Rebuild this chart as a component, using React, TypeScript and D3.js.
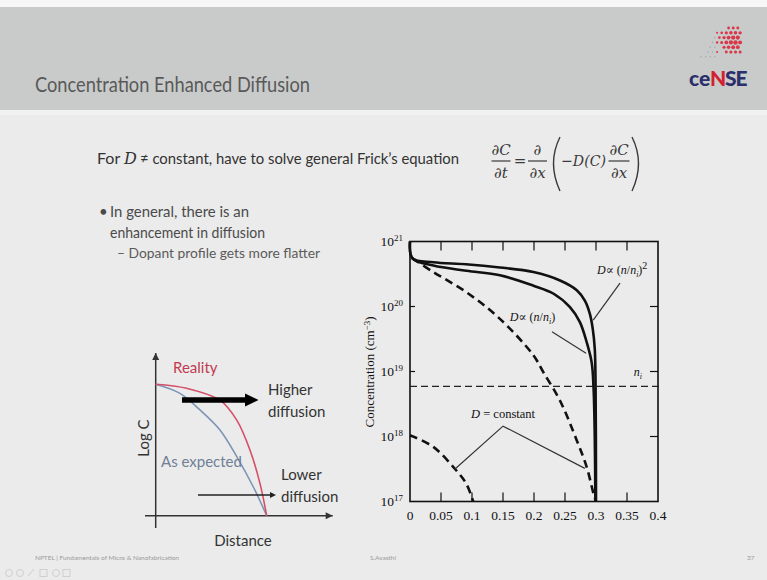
import * as d3 from 'd3';
import React from 'react';

// plot values: x in µm, concentration as log10(cm^-3)
const X_TICKS = [0, 0.05, 0.1, 0.15, 0.2, 0.25, 0.3, 0.35, 0.4];
const X_LABELS = ['0', '0.05', '0.1', '0.15', '0.2', '0.25', '0.3', '0.35', '0.4'];
const Y_EXPONENTS = [17, 18, 19, 20, 21];
const NI_LOG = 18.77;

const nNiSquared = [
    [0, 21.0], [0.004, 20.74], [0.0376, 20.68], [0.09, 20.65], [0.145, 20.6], [0.199, 20.53],
    [0.242, 20.4], [0.269, 20.25], [0.282, 20.09], [0.29, 19.89], [0.2947, 19.66], [0.298, 19.35],
    [0.2993, 18.8], [0.2998, 18.0], [0.3, 17.0],
];
const nNi = [
    [0, 21.0], [0.004, 20.74], [0.0376, 20.63], [0.091, 20.55], [0.145, 20.48], [0.199, 20.32],
    [0.231, 20.2], [0.258, 19.99], [0.274, 19.76], [0.285, 19.45], [0.293, 19.14], [0.296, 18.76],
    [0.298, 18.0], [0.299, 17.0],
];
const dConstLong = [
    [0.004, 20.74], [0.0376, 20.53], [0.091, 20.22], [0.145, 19.81], [0.199, 19.25], [0.215, 18.99],
    [0.242, 18.55], [0.269, 17.94], [0.285, 17.53], [0.296, 17.12], [0.3, 17.0],
];
const dConstShort = [[0, 18.02], [0.0376, 17.84], [0.0726, 17.5], [0.091, 17.27], [0.102, 17.0]];

// sketch on the left (arbitrary units)
const sketchReality = [[0, 8.08], [1.75, 7.83], [3.63, 7.1], [4.58, 5.87], [5.33, 4.02], [5.89, 1.99], [6.27, 0]];
const sketchExpected = [[0, 8.08], [1.37, 7.52], [2.5, 6.5], [3.63, 5.27], [4.58, 3.63], [5.51, 1.78], [6.27, 0]];

const SANS = 'Lato, "Open Sans", sans-serif';
const SERIF = '"Liberation Serif", "DejaVu Serif", serif';

function Logo() {
    const dots = [];
    for (let r = 0; r < 7; r++) {
        for (let c = 0; c < 9; c++) {
            const cx = 701 + c * 4.6 + (r % 2) * 2.3;
            const cy = 28 + r * 4.8;
            const d = Math.hypot(cx - 734, cy - 41);
            if (d > 15 && cx > 718) continue;
            if (cx < 701 + (6 - r) * 2.5) continue;
            const red = cx > 715;
            dots.push(
                <circle key={r + '-' + c} cx={cx} cy={cy}
                    r={red ? Math.max(1, 2.4 - d / 14) : 0.8}
                    fill={red ? '#d9364a' : '#a9a9b3'} />
            );
        }
    }
    const letters = [['c', 689, '#2c2f6b'], ['e', 699, '#2c2f6b'], ['N', 710, '#d41f33'], ['S', 725, '#2c2f6b'], ['E', 735.5, '#2c2f6b']];
    return (
        <g>
            {dots}
            {letters.map(([l, lx, col]) => (
                <text key={l as string} x={lx as number} y={86} fontFamily={SANS} fontWeight={900}
                    fontSize={21} fill={col as string}>{l}</text>
            ))}
        </g>
    );
}

function Equation() {
    const f = { fontFamily: '"DejaVu Serif", serif', fontStyle: 'italic', fontSize: 15, fill: '#3a3a3a' } as const;
    const frac = (cx: number, w: number, top: string, bot: string) => (
        <g>
            <text x={cx} y={155} textAnchor="middle" {...f}>{top}</text>
            <line x1={cx - w / 2} x2={cx + w / 2} y1={161} y2={161} stroke="#3a3a3a" strokeWidth={1.2} />
            <text x={cx} y={178} textAnchor="middle" {...f}>{bot}</text>
        </g>
    );
    return (
        <g>
            {frac(501, 19, '∂C', '∂t')}
            <text x={520} y={166} textAnchor="middle" {...f} fontStyle="normal">=</text>
            {frac(537.5, 19, '∂', '∂x')}
            <path d="M560,137 Q547,163 560,191" fill="none" stroke="#3a3a3a" strokeWidth={1.4} />
            <text x={561} y={166} {...f} textLength={45} lengthAdjust="spacingAndGlyphs">−D(C)</text>
            {frac(619, 21, '∂C', '∂x')}
            <path d="M632,137 Q645,163 632,191" fill="none" stroke="#3a3a3a" strokeWidth={1.4} />
        </g>
    );
}

function Sketch() {
    const sx = d3.scaleLinear().domain([0, 10]).range([155.7, 332.7]);
    const sy = d3.scaleLinear().domain([0, 10]).range([515.7, 353]);
    const line = d3.line<number[]>().x(d => sx(d[0])).y(d => sy(d[1])).curve(d3.curveCatmullRom.alpha(0.5));
    return (
        <g fontFamily={SANS}>
            <line x1={sx(0)} x2={sx(0)} y1={528} y2={sy(10)} stroke="#333" strokeWidth={1.5} />
            <path d={`M${sx(0) - 3.5},${sy(10) + 7} L${sx(0)},${sy(10)} L${sx(0) + 3.5},${sy(10) + 7}Z`} fill="#333" />
            <line x1={145} x2={sx(10)} y1={sy(0)} y2={sy(0)} stroke="#333" strokeWidth={1.5} />
            <path d={`M${sx(10) - 7},${sy(0) - 3.5} L${sx(10)},${sy(0)} L${sx(10) - 7},${sy(0) + 3.5}Z`} fill="#333" />
            <path d={line(sketchExpected) || ''} fill="none" stroke="#7d95b5" strokeWidth={1.6} />
            <path d={line(sketchReality) || ''} fill="none" stroke="#d45068" strokeWidth={1.6} />
            {/* thick arrow */}
            <line x1={182} x2={246} y1={400} y2={400} stroke="#000" strokeWidth={5.5} />
            <path d="M245,393.5 L258.5,400 L245,406.5Z" fill="#000" />
            {/* thin arrow */}
            <line x1={198} x2={272} y1={495} y2={495} stroke="#222" strokeWidth={1.4} />
            <path d="M270,492 L276,495 L270,498Z" fill="#222" />
            <text x={173} y={373} fontSize={15} fill="#c23a52">Reality</text>
            <text x={268} y={395} fontSize={15} fill="#333">Higher</text>
            <text x={268} y={417} fontSize={15} fill="#333">diffusion</text>
            <text x={161} y={467} fontSize={15} fill="#6f7f96">As expected</text>
            <text x={281} y={480} fontSize={15} fill="#333">Lower</text>
            <text x={281} y={502} fontSize={15} fill="#333">diffusion</text>
            <text x={243} y={546} fontSize={15} textAnchor="middle" fill="#333">Distance</text>
            <text transform="translate(149,438) rotate(-90)" fontSize={15} textAnchor="middle" fill="#333">Log C</text>
        </g>
    );
}

function Plot() {
    const x = d3.scaleLinear().domain([0, 0.4]).range([410, 658]);
    const y = d3.scaleLog().domain([1e17, 1e21]).range([501.5, 241.5]);
    const line = d3.line<number[]>()
        .x(d => x(d[0]))
        .y(d => y(10 ** d[1]))
        .curve(d3.curveCatmullRom.alpha(0.5));
    const [x0, x1] = x.range();
    const [yb, yt] = y.range();
    const at = (xv: number, lv: number) => [x(xv), y(10 ** lv)];
    const leader = (pts: number[][]) => pts.map(p => at(p[0], p[1]).join(',')).join(' ');

    return (
        <g fontFamily={SERIF} fill="#111">
            <rect x={x0} y={yt} width={x1 - x0} height={yb - yt} fill="none" stroke="#111" strokeWidth={1.6} />
            {X_TICKS.slice(1, -1).map(t => (
                <g key={t}>
                    <line x1={x(t)} x2={x(t)} y1={yt} y2={yt + 9} stroke="#111" strokeWidth={1.2} />
                    <line x1={x(t)} x2={x(t)} y1={yb} y2={yb - 9} stroke="#111" strokeWidth={1.2} />
                </g>
            ))}
            {Y_EXPONENTS.slice(1, -1).map(e => (
                <g key={e}>
                    <line x1={x0} x2={x0 + 5} y1={y(10 ** e)} y2={y(10 ** e)} stroke="#111" strokeWidth={1.2} />
                    <line x1={x1} x2={x1 - 8} y1={y(10 ** e)} y2={y(10 ** e)} stroke="#111" strokeWidth={1.2} />
                </g>
            ))}
            {X_TICKS.map((t, i) => (
                <text key={t} x={x(t)} y={520} fontSize={13.5} textAnchor="middle">{X_LABELS[i]}</text>
            ))}
            {Y_EXPONENTS.map(e => (
                <text key={e} x={403} y={y(10 ** e) + 4} fontSize={13.5} textAnchor="end">
                    10<tspan dy={-5} fontSize={9}>{e}</tspan>
                </text>
            ))}
            <text transform="translate(374,372) rotate(-90)" fontSize={13} textAnchor="middle">
                Concentration (cm<tspan dy={-4} fontSize={9}>−3</tspan><tspan dy={4}>)</tspan>
            </text>

            <line x1={x0} x2={x1 + 2} y1={y(10 ** NI_LOG)} y2={y(10 ** NI_LOG)}
                stroke="#222" strokeWidth={1.3} strokeDasharray="7 4" />
            <path d={line(dConstLong) || ''} fill="none" stroke="#111" strokeWidth={2.6} strokeDasharray="8 5" />
            <path d={line(dConstShort) || ''} fill="none" stroke="#111" strokeWidth={2.6} strokeDasharray="8 5" />
            <path d={line(nNi) || ''} fill="none" stroke="#111" strokeWidth={2.6} />
            <path d={line(nNiSquared) || ''} fill="none" stroke="#111" strokeWidth={2.6} />

            <polyline points={leader([[0.3387, 20.36], [0.2955, 19.79]])} fill="none" stroke="#333" strokeWidth={1.2} />
            <polyline points={leader([[0.229, 19.61], [0.284, 19.28]])} fill="none" stroke="#333" strokeWidth={1.2} />
            <polyline points={leader([[0.0726, 17.5], [0.15, 18.16], [0.282, 17.51]])} fill="none" stroke="#333" strokeWidth={1.2} />

            <text x={at(0.3016, 20.5)[0]} y={at(0.3016, 20.5)[1]} fontSize={12}>
                <tspan fontStyle="italic">D</tspan>∝ (<tspan fontStyle="italic">n</tspan>/<tspan fontStyle="italic">n</tspan><tspan fontSize={8} dy={3} fontStyle="italic">i</tspan><tspan dy={-3}>)</tspan><tspan dy={-5} fontSize={10}>2</tspan>
            </text>
            <text x={at(0.161, 19.78)[0]} y={at(0.161, 19.78)[1]} fontSize={12}>
                <tspan fontStyle="italic">D</tspan>∝ (<tspan fontStyle="italic">n</tspan>/<tspan fontStyle="italic">n</tspan><tspan fontSize={8} dy={3} fontStyle="italic">i</tspan><tspan dy={-3}>)</tspan>
            </text>
            <text x={at(0.15, 18.28)[0]} y={at(0.15, 18.28)[1]} fontSize={12.5} textAnchor="middle">
                <tspan fontStyle="italic">D</tspan> = constant
            </text>
            <text x={at(0.361, 18.93)[0]} y={at(0.361, 18.93)[1]} fontSize={12} fontStyle="italic">
                n<tspan fontSize={8} dy={3}>i</tspan>
            </text>
        </g>
    );
}

export default function App() {
    return (
        <svg width={767} height={580} style={{ position: 'absolute', left: 0, top: 0 }}>
            <rect width={767} height={580} fill="#ebebeb" />
            <rect width={767} height={7} fill="#f7f7f7" />
            <rect y={7} width={767} height={103} fill="#c9cbca" />
            <rect y={110} width={767} height={5} fill="#f1f1f1" />
            <text x={35} y={92} fontFamily={SANS} fontSize={21} fill="#595959"
                textLength={275} lengthAdjust="spacingAndGlyphs">Concentration Enhanced Diffusion</text>
            <Logo />

            <g fontFamily={SANS} fontSize={16} fill="#333">
                <text x={97} y={164}>For</text>
                <text x={124} y={164} fontFamily='"DejaVu Serif", serif' fontStyle="italic">D</text>
                <text x={140} y={164} textLength={319} lengthAdjust="spacingAndGlyphs">≠ constant, have to solve general Frick’s equation</text>
            </g>
            <Equation />

            <g fontFamily={SANS} fill="#4a4a4a">
                <text x={99} y={217} fontSize={15}>•</text>
                <text x={110} y={217} fontSize={15} textLength={139} lengthAdjust="spacingAndGlyphs">In general, there is an</text>
                <text x={110} y={238} fontSize={15} textLength={155} lengthAdjust="spacingAndGlyphs">enhancement in diffusion</text>
                <text x={117} y={258} fontSize={13} fill="#5a5a5a" textLength={203} lengthAdjust="spacingAndGlyphs">– Dopant profile gets more flatter</text>
            </g>

            <Sketch />
            <Plot />

            <g fontFamily={SANS} fontSize={6.5} fill="#9a9a9a">
                <text x={35} y={560}>NPTEL | Fundamentals of Micro &amp; Nanofabrication</text>
                <text x={370} y={560}>S.Avasthi</text>
                <text x={747} y={560}>37</text>
            </g>
            <g fill="none" stroke="#cfcfcf" strokeWidth={1}>
                <circle cx={9} cy={573} r={3.5} />
                <circle cx={20} cy={573} r={3.5} />
                <path d="M28,576 L34,569" />
                <rect x={40} y={569.5} width={7} height={7} />
                <circle cx={56} cy={573} r={3.5} />
                <rect x={63} y={569.5} width={7} height={7} />
            </g>
        </svg>
    );
}
